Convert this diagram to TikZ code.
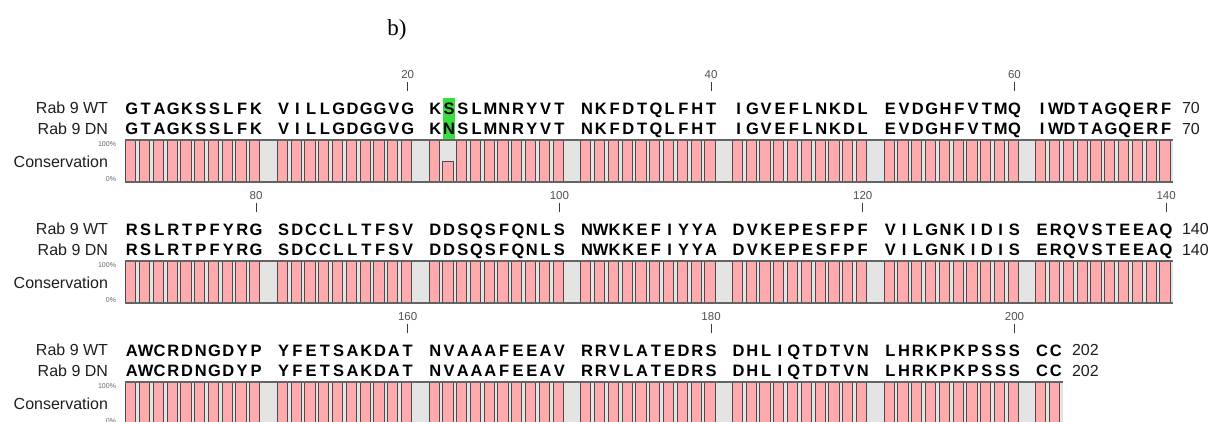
\documentclass[tikz,border=0pt]{standalone}
\usepackage{fontspec}
\setmainfont{Liberation Serif}
\newfontfamily\arialfont{Liberation Sans}
\usepackage{tikz}

% one line of residues, - marks the gap column
\newcommand{\seqline}[3]{%
  \foreach \ch [count=\c from 0] in {#3}{%
    \if\ch-\else
      \draw ({125+(\c+0.5)*13.79},#1) node[res](#2-\c){\ch};
    \fi}}
% conservation strip: top y, last column, mismatch column (-1 if none)
\newcommand{\consbar}[4]{%
  \fill[gapfill] (125,#1) rectangle ({125+(#2+1)*13.79},#1+42);
  \foreach \c in {0,...,#2}{%
    \pgfmathtruncatemacro\pos{mod(\c,11)}%
    \ifnum\pos=10 \else
      \ifnum\c=#3
        \draw[bar] ({125+\c*13.79+0.6},#1+21) rectangle ({125+(\c+1)*13.79-3.0},#1+42);
      \else
        \draw[bar] ({125+\c*13.79+0.6},#1) rectangle ({125+(\c+1)*13.79-3.0},#1+42);
      \fi
    \fi}
  \draw[rim] (125,#1) -- ({125+(#2+1)*13.79},#1);
  \draw[rim] (125,#1+42) -- ({125+(#2+1)*13.79},#1+42);
  \draw (116,#1+4) node[pct, anchor=east](#4-top){100\%};
  \draw (116,#1+39) node[pct, anchor=east](#4-low){0\%};
  \draw (108,#1+22) node[lab, anchor=east](#4-name){Conservation};}
\newcommand{\ruler}[3]{%
  \draw[tick] ({125+(#2+0.5)*13.79},#1+7) -- ({125+(#2+0.5)*13.79},#1+16);
  \draw ({125+(#2+0.5)*13.79},#1) node[num](n#3){#3};}

\begin{document}
\begin{tikzpicture}[x=1pt,y=-1pt]
		\tikzstyle{every node}=[inner sep=0pt, outer sep=0pt]
		\tikzstyle{res} = [font=\arialfont\fontsize{16.5}{17}\selectfont\bfseries, text height=12pt, text depth=0pt, anchor=center]
		\tikzstyle{lab} = [font=\arialfont\fontsize{16}{18}\selectfont, text={rgb,255:red,30; green,30; blue,30}]
		\tikzstyle{num} = [font=\arialfont\fontsize{11.5}{13}\selectfont, text={rgb,255:red,80; green,80; blue,80}]
		\tikzstyle{pct} = [font=\arialfont\fontsize{7}{8}\selectfont, text={rgb,255:red,100; green,100; blue,100}]
		\tikzstyle{tick} = [line width=1pt, draw={rgb,255:red,60; green,60; blue,60}]
		\tikzstyle{bar} = [fill={rgb,255:red,255; green,170; blue,172}, draw={rgb,255:red,75; green,75; blue,75}, line width=0.9pt]
		\tikzstyle{gapfill} = [fill={rgb,255:red,228; green,228; blue,228}]
		\tikzstyle{rim} = [line width=1.2pt, draw={rgb,255:red,100; green,100; blue,100}]
		\tikzstyle{hilite} = [fill={rgb,255:red,55; green,222; blue,60}]
		\useasboundingbox (0,0) rectangle (1213,421);

		\draw (397,30) node[font=\fontsize{23}{26}\selectfont](panel){b)};

		% row 1 : 1-70
		\fill[hilite] ({125+23*13.79+0.9},97.5) rectangle ({125+24*13.79-0.9},118.5);
		\fill[hilite] ({125+23*13.79+0.9},118.5) rectangle ({125+24*13.79-0.9},139);
		\ruler{75}{20}{20}
		\ruler{75}{42}{40}
		\ruler{75}{64}{60}
		\draw (108,108) node[lab, anchor=east](wt1){Rab 9 WT};
		\draw (108,128.5) node[lab, anchor=east](dn1){Rab 9 DN};
		\seqline{108}{wta}{G,T,A,G,K,S,S,L,F,K,-,V,I,L,L,G,D,G,G,V,G,-,K,S,S,L,M,N,R,Y,V,T,-,N,K,F,D,T,Q,L,F,H,T,-,I,G,V,E,F,L,N,K,D,L,-,E,V,D,G,H,F,V,T,M,Q,-,I,W,D,T,A,G,Q,E,R,F}
		\seqline{128.5}{dna}{G,T,A,G,K,S,S,L,F,K,-,V,I,L,L,G,D,G,G,V,G,-,K,N,S,L,M,N,R,Y,V,T,-,N,K,F,D,T,Q,L,F,H,T,-,I,G,V,E,F,L,N,K,D,L,-,E,V,D,G,H,F,V,T,M,Q,-,I,W,D,T,A,G,Q,E,R,F}
		\draw (1182,108) node[lab, anchor=west](endwt1){70};
		\draw (1182,128.5) node[lab, anchor=west](enddn1){70};
		\consbar{140}{75}{23}{cons1}

		% row 2 : 71-140
		\ruler{196}{9}{80}
		\ruler{196}{31}{100}
		\ruler{196}{53}{120}
		\ruler{196}{75}{140}
		\draw (108,229) node[lab, anchor=east](wt2){Rab 9 WT};
		\draw (108,249.5) node[lab, anchor=east](dn2){Rab 9 DN};
		\seqline{229}{wtb}{R,S,L,R,T,P,F,Y,R,G,-,S,D,C,C,L,L,T,F,S,V,-,D,D,S,Q,S,F,Q,N,L,S,-,N,W,K,K,E,F,I,Y,Y,A,-,D,V,K,E,P,E,S,F,P,F,-,V,I,L,G,N,K,I,D,I,S,-,E,R,Q,V,S,T,E,E,A,Q}
		\seqline{249.5}{dnb}{R,S,L,R,T,P,F,Y,R,G,-,S,D,C,C,L,L,T,F,S,V,-,D,D,S,Q,S,F,Q,N,L,S,-,N,W,K,K,E,F,I,Y,Y,A,-,D,V,K,E,P,E,S,F,P,F,-,V,I,L,G,N,K,I,D,I,S,-,E,R,Q,V,S,T,E,E,A,Q}
		\draw (1182,229) node[lab, anchor=west](endwt2){140};
		\draw (1182,249.5) node[lab, anchor=west](enddn2){140};
		\consbar{261}{75}{-1}{cons2}

		% row 3 : 141-202
		\ruler{317}{20}{160}
		\ruler{317}{42}{180}
		\ruler{317}{64}{200}
		\draw (108,350) node[lab, anchor=east](wt3){Rab 9 WT};
		\draw (108,370.5) node[lab, anchor=east](dn3){Rab 9 DN};
		\seqline{350}{wtc}{A,W,C,R,D,N,G,D,Y,P,-,Y,F,E,T,S,A,K,D,A,T,-,N,V,A,A,A,F,E,E,A,V,-,R,R,V,L,A,T,E,D,R,S,-,D,H,L,I,Q,T,D,T,V,N,-,L,H,R,K,P,K,P,S,S,S,-,C,C}
		\seqline{370.5}{dnc}{A,W,C,R,D,N,G,D,Y,P,-,Y,F,E,T,S,A,K,D,A,T,-,N,V,A,A,A,F,E,E,A,V,-,R,R,V,L,A,T,E,D,R,S,-,D,H,L,I,Q,T,D,T,V,N,-,L,H,R,K,P,K,P,S,S,S,-,C,C}
		\draw (1072,350) node[lab, anchor=west](endwt3){202};
		\draw (1072,370.5) node[lab, anchor=west](enddn3){202};
		\consbar{382}{67}{-1}{cons3}
	\end{tikzpicture}
\end{document}
